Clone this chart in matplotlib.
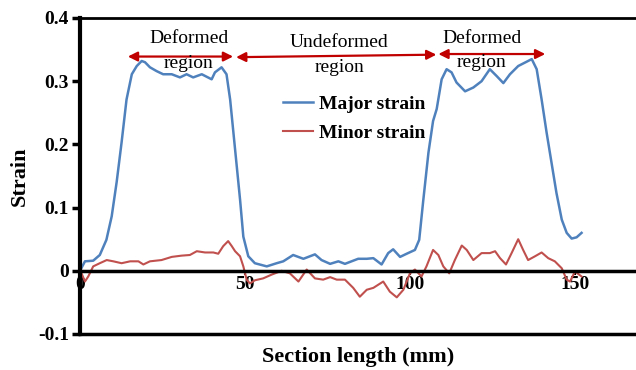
import matplotlib
matplotlib.use('Agg')
import matplotlib.pyplot as plt

plt.rcParams['font.family'] = ['Liberation Serif', 'DejaVu Serif']

# Major strain
major_x = [0, 1.5, 4, 6, 8, 9.6, 11.1, 12.6, 14.1, 15.7, 17.2, 18.7, 19.7, 21.2, 23.2,
           25.2, 27.8, 30.3, 32.3, 34.3, 36.9, 39.9, 40.9, 42.9, 44.4, 45.5, 47, 48.5,
           49.5, 51, 53, 56.6, 59.6, 61.6, 64.6, 67.7, 71.2, 73.2, 75.8, 78.3, 80.3,
           84.3, 86.9, 88.9, 91.4, 93.4, 94.9, 97, 99, 101.5, 102.8, 104, 105.6, 107,
           108.1, 109.6, 111.1, 112.6, 114.1, 116.7, 119.2, 121.7, 124.2, 126.3, 128.3,
           130.3, 132.8, 135.8, 136.9, 138.4, 139.9, 141.4, 142.9, 144.4, 146, 147.5,
           149, 150.5, 152]
major_y = [0.000, 0.015, 0.016, 0.025, 0.049, 0.086, 0.140, 0.203, 0.271, 0.311, 0.324,
           0.332, 0.330, 0.322, 0.316, 0.311, 0.311, 0.306, 0.311, 0.306, 0.311, 0.303,
           0.314, 0.322, 0.311, 0.271, 0.192, 0.113, 0.054, 0.023, 0.012, 0.007, 0.012,
           0.015, 0.025, 0.019, 0.026, 0.017, 0.011, 0.015, 0.011, 0.019, 0.019, 0.020,
           0.010, 0.028, 0.034, 0.022, 0.027, 0.033, 0.049, 0.110, 0.187, 0.237, 0.256,
           0.303, 0.319, 0.314, 0.298, 0.284, 0.290, 0.300, 0.319, 0.308, 0.297, 0.311,
           0.324, 0.332, 0.335, 0.319, 0.271, 0.219, 0.171, 0.123, 0.081, 0.060, 0.051,
           0.053, 0.060]

# Minor strain
minor_x = [0, 1.5, 2.5, 4, 6, 8.1, 10.1, 12.6, 15.2, 17.7, 19.2, 21.2, 24.7, 27.8, 30.8,
           33.3, 35.4, 37.9, 40.4, 41.9, 43.4, 44.9, 46, 47, 48.5, 49.5, 50.5, 51.5, 53,
           55.5, 58.1, 61.1, 63.6, 66.2, 68.7, 71.2, 73.7, 75.8, 77.8, 80.3, 82.8, 84.8,
           86.9, 88.9, 91.9, 93.9, 96, 98, 100, 101.5, 103.5, 105, 107, 108.6, 110.1,
           111.9, 113.6, 115.7, 117.2, 119.2, 121.7, 124.2, 125.8, 127.3, 129.1, 130.8,
           132.8, 134.3, 135.8, 137.9, 139.9, 141.9, 143.9, 146, 147.5, 148.5, 150, 152]
minor_y = [0.002, -0.017, -0.009, 0.007, 0.012, 0.017, 0.015, 0.012, 0.015, 0.015, 0.010,
           0.015, 0.017, 0.022, 0.024, 0.025, 0.031, 0.029, 0.029, 0.027, 0.039, 0.047,
           0.039, 0.031, 0.023, 0.007, -0.014, -0.020, -0.015, -0.012, -0.006, 0.000,
           -0.004, -0.017, 0.002, -0.012, -0.014, -0.010, -0.014, -0.014, -0.027, -0.041,
           -0.030, -0.027, -0.017, -0.033, -0.042, -0.030, -0.004, 0.002, -0.009, 0.007,
           0.033, 0.025, 0.007, -0.004, 0.017, 0.040, 0.033, 0.017, 0.028, 0.028, 0.031,
           0.020, 0.010, 0.028, 0.050, 0.033, 0.017, 0.023, 0.029, 0.020, 0.015, 0.004,
           -0.014, -0.017, -0.001, -0.009]

# region arrows: (x start, x end, y start, y end)
arrows = [(14.5, 46.4, 0.339, 0.339), (47.3, 108.0, 0.338, 0.342), (108.6, 141.0, 0.343, 0.343)]
# region labels: (x, y, text)
labels = [(33, 0.367, 'Deformed'), (33, 0.328, 'region'),
          (78.5, 0.362, 'Undeformed'), (78.5, 0.322, 'region'),
          (121.8, 0.368, 'Deformed'), (121.8, 0.330, 'region')]

fig = plt.figure(figsize=(6.36, 3.70), dpi=100)
ax = fig.add_axes([80 / 636, 1 - 334 / 370, 1 - 80 / 636, 316 / 370])

ax.plot(major_x, major_y, color='#4F81BD', lw=1.8, label='Major strain')
ax.plot(minor_x, minor_y, color='#C0504D', lw=1.5, label='Minor strain')

ax.set_xlim(0, 168.5)
ax.set_ylim(-0.1, 0.4)

# eje x cruzando en cero, marco arriba y abajo
ax.spines['bottom'].set_position(('data', 0))
ax.spines['bottom'].set_linewidth(2.5)
ax.spines['left'].set_linewidth(3)
ax.spines['top'].set_linewidth(2)
ax.spines['right'].set_visible(False)
ax.axhline(-0.1, color='black', lw=2.5, clip_on=False)

ax.set_yticks([-0.1, 0, 0.1, 0.2, 0.3, 0.4])
ax.set_yticklabels(['-0.1', '0', '0.1', '0.2', '0.3', '0.4'])
ax.set_xticks([0, 50, 100, 150])
ax.tick_params(axis='y', direction='out', length=6, width=2.5, labelsize=14, pad=2)
ax.tick_params(axis='x', direction='out', length=3, width=1.5, labelsize=14, pad=1)
for t in ax.get_xticklabels() + ax.get_yticklabels():
    t.set_fontweight('bold')

ax.set_ylabel('Strain', fontsize=16, fontweight='bold', labelpad=6)
fig.text(358 / 636, 1 - 357 / 370, 'Section length (mm)', fontsize=16, fontweight='bold',
         ha='center', va='center')

for x0, x1, y0, y1 in arrows:
    ax.annotate('', xy=(x1, y1), xytext=(x0, y0),
                arrowprops=dict(arrowstyle='<|-|>', color='#C00000', lw=1.6,
                                mutation_scale=14, shrinkA=0, shrinkB=0))
for x, y, s in labels:
    ax.text(x, y, s, fontsize=14, ha='center', va='center')

leg = ax.legend(loc='center left', bbox_to_anchor=(283 / 636, 1 - 118.5 / 370),
                bbox_transform=fig.transFigure, frameon=False, borderpad=0,
                borderaxespad=0, handlelength=1.55, handletextpad=0.3, labelspacing=0.6,
                prop={'size': 14, 'weight': 'bold'})

fig.savefig('out.png', dpi=100)
